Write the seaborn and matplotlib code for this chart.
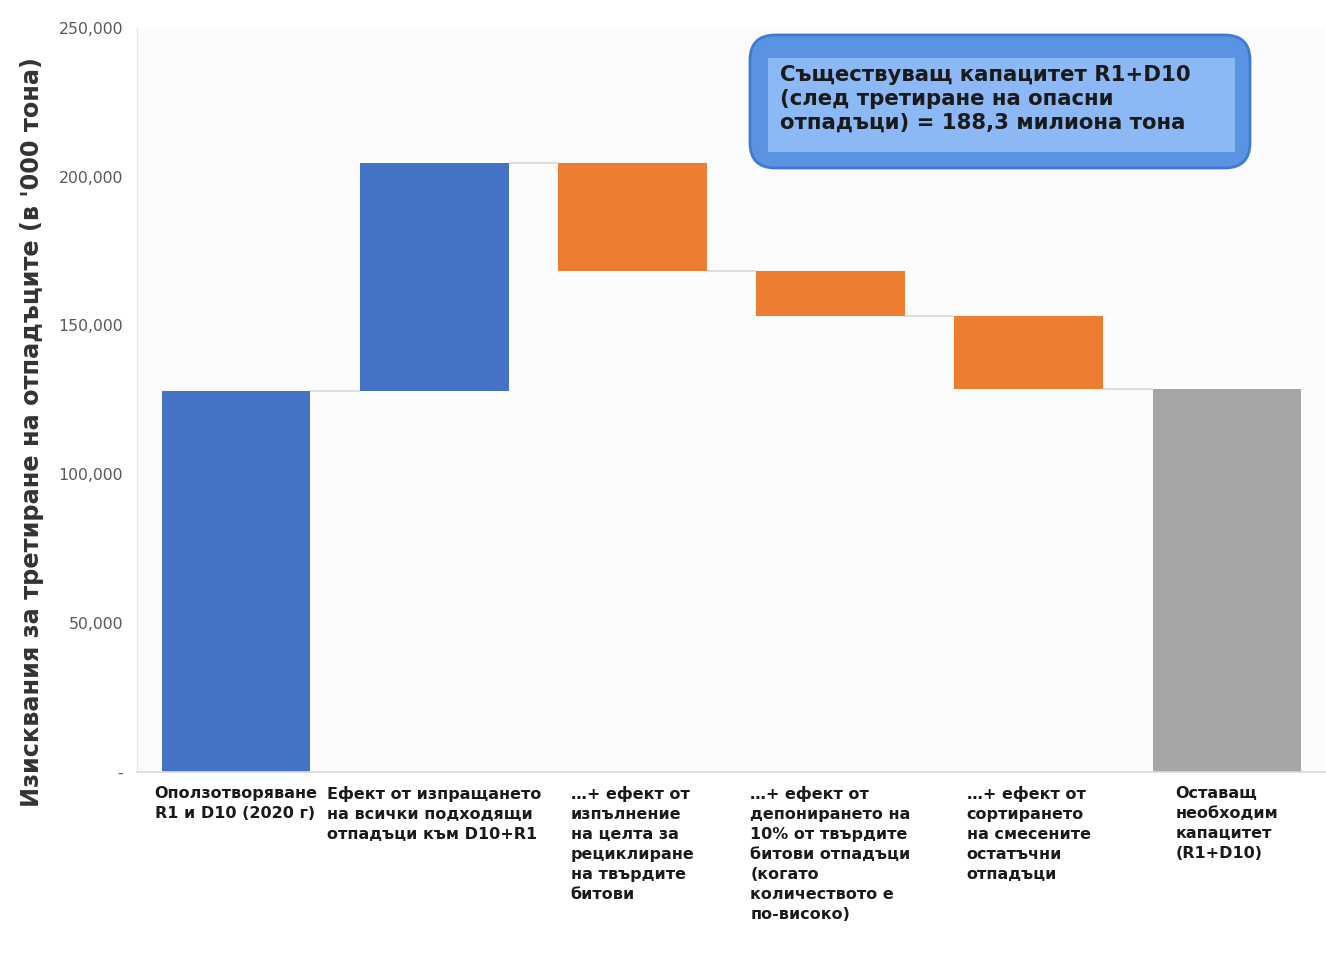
import numpy as np
import pandas as pd
import matplotlib
matplotlib.use("Agg")
import matplotlib.pyplot as plt
import seaborn as sns
from matplotlib.patches import FancyBboxPatch, Rectangle
from matplotlib.ticker import FuncFormatter

# waterfall data (values in '000 tonnes)
categories = [
    "Оползотворяване\nR1 и D10 (2020 г)",
    "Ефект от изпращането\nна всички подходящи\nотпадъци към D10+R1",
    "…+ ефект от\nизпълнение\nна целта за\nрециклиране\nна твърдите\nбитови",
    "…+ ефект от\nдепонирането на\n10% от твърдите\nбитови отпадъци\n(когато\nколичеството е\nпо-високо)",
    "…+ ефект от\nсортирането\nна смесените\nостатъчни\nотпадъци",
    "Оставащ\nнеобходим\nкапацитет\n(R1+D10)",
]
bar_bottom = [0, 128000, 168200, 153200, 128800, 0]
bar_top = [128000, 204600, 204600, 168200, 153200, 128800]
bar_colors = ["#4472C4", "#4472C4", "#ED7D31", "#ED7D31", "#ED7D31", "#A5A5A5"]

y_ticks = [0, 50000, 100000, 150000, 200000, 250000]
y_label = "Изисквания за третиране на отпадъците (в '000 тона)"
box_text = "Съществуващ капацитет R1+D10\n(след третиране на опасни\nотпадъци) = 188,3 милиона тона"

df = pd.DataFrame({
    "step": categories,
    "height": np.array(bar_top) - np.array(bar_bottom),
    "bottom": bar_bottom,
})

sns.set_style("white")
plt.rcParams["font.family"] = ["DejaVu Sans"]

fig = plt.figure(figsize=(13.26, 9.59), dpi=100, facecolor="white")
ax = fig.add_axes([0.1033, 0.195, 0.8967, 0.776])
ax.set_facecolor("#fcfcfc")

sns.barplot(data=df, x="step", y="height", bottom=df["bottom"].values,
            width=0.75, color="#4472C4", edgecolor="none", ax=ax)
for patch, c in zip(ax.patches, bar_colors):
    patch.set_facecolor(c)

# connector lines between bars
for i in range(len(categories) - 1):
    level = bar_top[i] if i < 2 else bar_bottom[i]
    ax.hlines(level, i + 0.375, i + 1 - 0.375, color="#d9d9d9", lw=1.2, zorder=1)

ax.set_xlim(-0.5, len(categories) - 0.5)
ax.set_ylim(0, 250000)
ax.set_yticks(y_ticks)
ax.yaxis.set_major_formatter(FuncFormatter(lambda v, p: "-" if v == 0 else f"{v:,.0f}"))
ax.tick_params(axis="y", length=0, pad=10, labelsize=11.3, labelcolor="#595959")
ax.tick_params(axis="x", length=0, pad=10)
ax.set_xlabel("")
ax.set_ylabel("")
for lab in ax.get_xticklabels():
    lab.set_fontsize(11.5)
    lab.set_fontweight("bold")
    lab.set_color("#1a1a1a")
    lab.set_multialignment("left")
    lab.set_verticalalignment("top")
    lab.set_linespacing(1.42)

for side in ["top", "right"]:
    ax.spines[side].set_visible(False)
ax.spines["left"].set_color("#e6e6e6")
ax.spines["bottom"].set_color("#d9d9d9")
ax.spines["left"].set_linewidth(1)
ax.spines["bottom"].set_linewidth(1.2)

fig.text(0.024, 0.55, y_label, rotation=90, ha="center", va="center",
         fontsize=17.3, fontweight="bold", color="#333333")

# annotation box in the top right
W, H = 1326, 959
outer = FancyBboxPatch((750 / W, 1 - 168 / H), 500 / W, 133 / H,
                       boxstyle="round,pad=0,rounding_size=0.019",
                       mutation_aspect=W / H, transform=fig.transFigure,
                       facecolor="#5a93e2", edgecolor="#3f7bcc", lw=2, zorder=5)
fig.patches.append(outer)
inner = Rectangle((768 / W, 1 - 152 / H), 467 / W, 94 / H, transform=fig.transFigure,
                  facecolor="#8cb8f6", edgecolor="none", zorder=6)
fig.patches.append(inner)
fig.text(780 / W, 1 - 99 / H, box_text, ha="left", va="center", fontsize=15.3,
         fontweight="bold", color="#1a1a1a", linespacing=1.22, zorder=7)

fig.savefig("out.png", dpi=100, facecolor=fig.get_facecolor())
